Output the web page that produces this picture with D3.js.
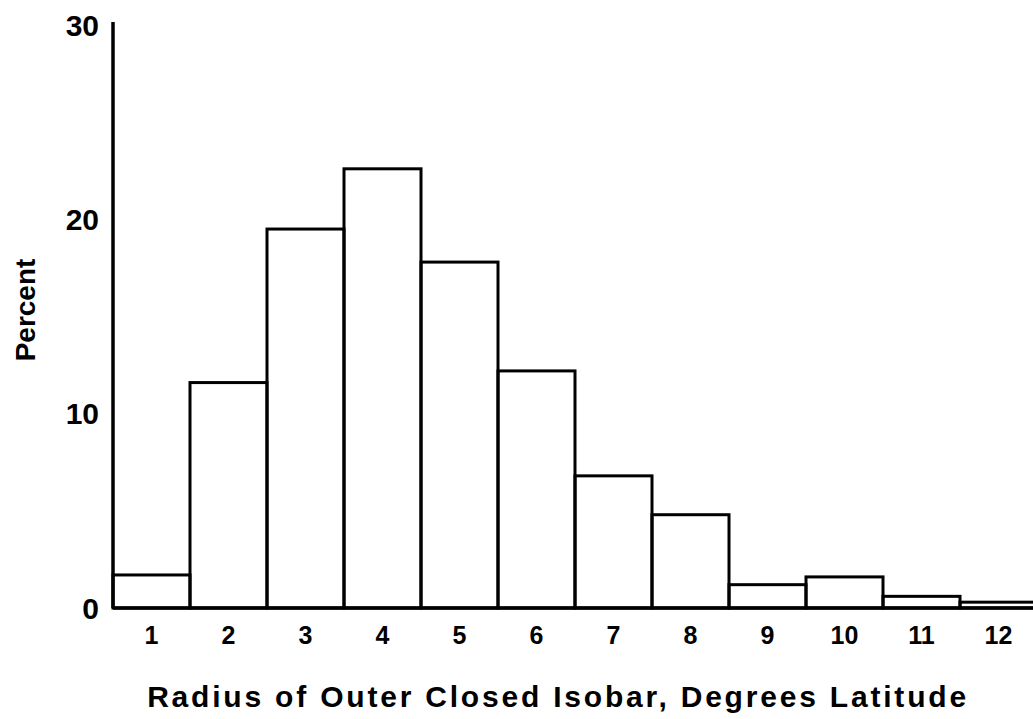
<!DOCTYPE html>
<html>
<head>
<meta charset="utf-8">
<script src="https://d3js.org/d3.v7.min.js"></script>
<style>
  body { margin: 0; background: #fff; }
  text { font-family: "Liberation Sans", Arial, sans-serif; font-weight: bold; fill: #000; }
</style>
</head>
<body>
<div id="chart"></div>
<script>
// radius bins (degrees latitude) and percent of cases
var radius = [1, 2, 3, 4, 5, 6, 7, 8, 9, 10, 11, 12];
var percent = [1.7, 11.6, 19.5, 22.6, 17.8, 12.2, 6.8, 4.8, 1.2, 1.6, 0.6, 0.3];
var yTicks = [0, 10, 20, 30];

var svg = d3.select("#chart")
            .append("svg")
            .attr("width", 1033)
            .attr("height", 719);

var x = d3.scaleLinear().domain([0.5, 12.5]).range([113, 1037]),
    y = d3.scaleLinear().domain([0, 30]).range([608, 25]);

// bars
svg.selectAll("rect.bar")
   .data(radius)
   .enter()
   .append("rect")
   .attr("class", "bar")
   .attr("x", function(d) { return x(d - 0.5); })
   .attr("width", function(d) { return x(d + 0.5) - x(d - 0.5); })
   .attr("y", function(d, i) { return y(percent[i]); })
   .attr("height", function(d, i) { return y(0) - y(percent[i]); })
   .style("fill", "none")
   .style("stroke", "black")
   .style("stroke-width", "3px");

// y axis line and baseline
svg.append("line")
   .attr("x1", x(0.5)).attr("x2", x(0.5))
   .attr("y1", y(30) - 3).attr("y2", y(0))
   .style("stroke", "black").style("stroke-width", "3.5px");
svg.append("line")
   .attr("x1", x(0.5)).attr("x2", 1033)
   .attr("y1", y(0)).attr("y2", y(0))
   .style("stroke", "black").style("stroke-width", "3.5px");

// y tick labels
svg.selectAll("text.ytick")
   .data(yTicks)
   .enter()
   .append("text")
   .attr("class", "ytick")
   .attr("x", 99)
   .attr("y", function(d) { return y(d); })
   .attr("dy", "0.36em")
   .attr("text-anchor", "end")
   .style("font-size", "30px")
   .text(function(d) { return d; });

// x tick labels
svg.selectAll("text.xtick")
   .data(radius)
   .enter()
   .append("text")
   .attr("class", "xtick")
   .attr("x", function(d) { return x(d); })
   .attr("y", 644)
   .attr("text-anchor", "middle")
   .style("font-size", "25px")
   .text(function(d) { return d; });

svg.append("text")
   .attr("x", 558)
   .attr("y", 707)
   .attr("text-anchor", "middle")
   .style("font-size", "30px")
   .style("letter-spacing", "2.8px")
   .text("Radius of Outer Closed Isobar, Degrees Latitude");

svg.append("text")
   .attr("transform", "translate(35,310) rotate(-90)")
   .attr("text-anchor", "middle")
   .style("font-size", "28px")
   .text("Percent");
</script>
</body>
</html>
